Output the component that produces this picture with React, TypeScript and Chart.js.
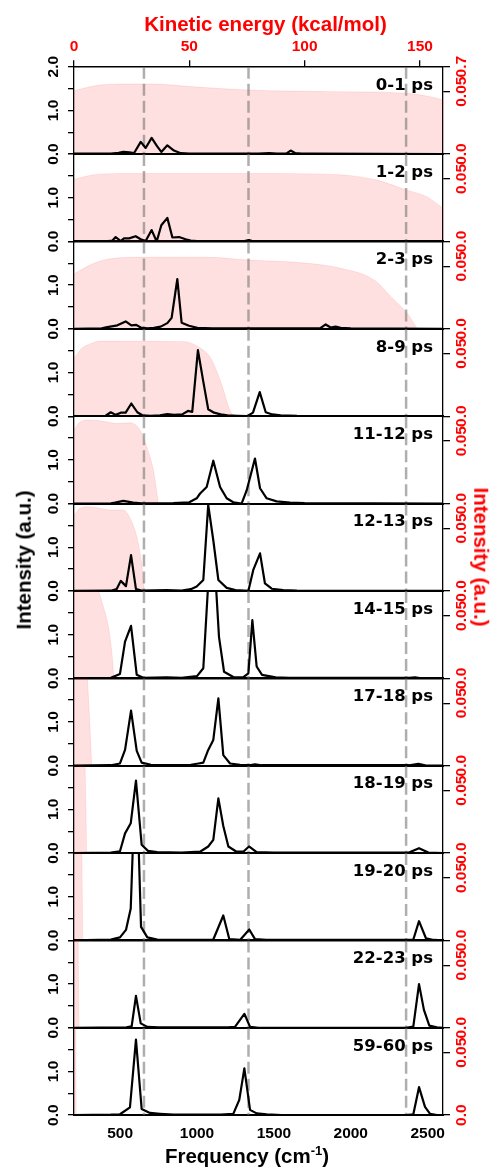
import React, { useEffect, useRef } from 'react';
import { Chart, registerables } from 'chart.js';

Chart.register(...registerables);

// ---------- data ----------
const panelLabels = ['0-1 ps', '1-2 ps', '2-3 ps', '8-9 ps', '11-12 ps', '12-13 ps', '14-15 ps', '17-18 ps', '18-19 ps', '19-20 ps', '22-23 ps', '59-60 ps'];

const freqTicks = [500, 1000, 1500, 2000, 2500];
const keTicks = [0, 50, 100, 150];
const intensityTicks = [0, 0.5, 1, 1.5, 2];
const refLines = [655, 1335, 2360];

// spectra: [frequency (cm-1), intensity (a.u.)]
const spec0 = [[200,0.01],[440,0.01],[490,0.03],[521,0.05],[560,0.04],[590,0.02],[634,0.28],[666,0.14],[705,0.37],[740,0.18],[768,0.05],[807,0.2],[850,0.08],[894,0.02],[950,0.01],[1400,0.01],[1470,0.02],[1520,0.01],[1580,0.01],[1609,0.08],[1640,0.02],[1680,0.01],[1750,0.01],[2600,0]];
const spec1 = [[200,0],[420,0.01],[450,0.02],[471,0.1],[504,0.01],[525,0.07],[558,0.07],[601,0.12],[634,0.05],[666,0.01],[705,0.26],[738,0],[768,0.37],[807,0.54],[840,0.09],[883,0.1],[926,0.05],[959,0.02],[1000,0.01],[1300,0],[1338,0.03],[1370,0],[1600,0.01],[2600,0]];
const spec2 = [[200,0],[380,0.01],[417,0.04],[482,0.08],[536,0.17],[573,0.08],[605,0.09],[634,0.03],[677,0.01],[720,0.02],[764,0.05],[807,0.13],[835,0.25],[872,1.14],[900,0.14],[948,0.07],[1002,0.02],[1100,0.01],[1800,0.01],[1837,0.1],[1869,0.03],[1902,0.05],[1934,0.02],[2000,0.01],[2600,0]];
const spec3 = [[200,0],[406,0.01],[439,0.09],[471,0.03],[504,0.08],[536,0.08],[573,0.29],[612,0.09],[644,0.02],[700,0.01],[760,0.02],[807,0.05],[850,0.03],[904,0.04],[941,0.12],[969,0.1],[1006,1.51],[1041,0.79],[1073,0.16],[1111,0.08],[1154,0.04],[1198,0.02],[1260,0.01],[1327,0],[1364,0.08],[1408,0.55],[1447,0.09],[1490,0.04],[1544,0.02],[1650,0.01],[2600,0]];
const spec4 = [[200,0],[440,0.005],[467,0.02],[521,0.06],[585,0.02],[640,0.005],[846,0.01],[950,0.03],[998,0.12],[1020,0.23],[1063,0.38],[1106,0.98],[1150,0.38],[1193,0.12],[1236,0.03],[1290,0],[1323,0.3],[1377,1.03],[1410,0.35],[1453,0.12],[1518,0.05],[1605,0.02],[1700,0.01],[2600,0]];
const spec5 = [[200,0],[440,0.005],[477,0.04],[504,0.23],[538,0.11],[571,0.82],[603,0.04],[640,0.01],[803,0.02],[900,0.01],[960,0.04],[998,0.1],[1041,0.25],[1073,1.97],[1106,1.16],[1139,0.25],[1193,0.07],[1250,0.02],[1334,0],[1366,0.48],[1410,0.86],[1442,0.17],[1486,0.05],[1561,0.02],[1650,0.01],[2600,0]];
const spec6 = [[200,0],[440,0.01],[499,0.1],[532,0.84],[571,1.2],[608,0.08],[650,0.01],[803,0.02],[900,0.01],[1000,0.05],[1041,0.23],[1080,2.6],[1102,3.5],[1122,2.2],[1143,0.95],[1176,0.15],[1236,0.03],[1300,0.02],[1334,0.11],[1360,1.33],[1388,0.27],[1423,0.08],[1512,0.02],[1600,0.01],[2380,0.01],[2418,0.02],[2460,0],[2600,0]];
const spec7 = [[200,0],[440,0.01],[499,0.05],[532,0.36],[571,1.26],[608,0.34],[640,0.07],[700,0.02],[800,0.01],[960,0.02],[1010,0.05],[1041,0.07],[1073,0.36],[1106,0.59],[1139,1.54],[1171,0.24],[1215,0.05],[1280,0.02],[1340,0.01],[1377,0.03],[1420,0.01],[2380,0.01],[2440,0.04],[2490,0],[2600,0]];
const spec8 = [[200,0],[440,0.01],[499,0.04],[532,0.45],[569,0.68],[603,1.66],[640,0.19],[681,0.05],[740,0.02],[900,0.01],[1020,0.03],[1073,0.15],[1106,0.3],[1139,1.25],[1171,0.62],[1204,0.15],[1257,0.03],[1301,0.03],[1338,0.15],[1388,0.02],[1500,0.01],[2378,0.01],[2444,0.11],[2505,0.01],[2600,0]];
const spec9 = [[200,0],[440,0.02],[499,0.07],[538,0.24],[569,0.73],[603,4.2],[636,0.31],[677,0.07],[742,0.02],[900,0.01],[1060,0.01],[1106,0.02],[1171,0.57],[1210,0.03],[1280,0.01],[1340,0.25],[1377,0.03],[1450,0.01],[2360,0.01],[2407,0.02],[2444,0.44],[2489,0.05],[2540,0.01],[2600,0]];
const spec10 = [[200,0],[540,0.01],[575,0.03],[603,0.73],[634,0.1],[677,0.02],[750,0.01],[1200,0.01],[1247,0.02],[1308,0.32],[1345,0.02],[1400,0],[2360,0],[2407,0.03],[2444,1.0],[2476,0.41],[2511,0.05],[2560,0.01],[2600,0]];
const spec11 = [[200,0],[440,0.01],[499,0.02],[564,0.18],[603,1.73],[640,0.14],[694,0.05],[759,0.03],[846,0.01],[1153,0.01],[1236,0.03],[1275,0.35],[1308,1.07],[1345,0.12],[1388,0.04],[1453,0.02],[1550,0],[2360,0],[2407,0.02],[2444,0.64],[2483,0.19],[2516,0.03],[2560,0],[2600,0]];

// kinetic energy distributions: [energy (kcal/mol), intensity (a.u.)]
const ke0 = [[0,0.0508],[11.3,0.0553],[23,0.0561],[33,0.0561],[54.6,0.0535],[75.4,0.0513],[112.3,0.05],[144,0.0487],[154.3,0.046],[160,0.0433]];
const ke1 = [[0,0.0497],[9.8,0.0537],[25.7,0.0545],[76.3,0.0545],[112.3,0.0537],[131.2,0.0492],[144,0.0412],[152.9,0.0358],[160,0.0265]];
const ke2 = [[0,0.0439],[4.3,0.0485],[8.7,0.0525],[14.5,0.0557],[28.9,0.0573],[57.8,0.0573],[75.2,0.0551],[101.2,0.0525],[115.6,0.0485],[130.1,0.0391],[138.8,0.023],[144.5,0.0124],[148.8,0]];
const ke3 = [[0,0.046],[2.9,0.0535],[7.2,0.058],[11.6,0.0602],[21.7,0.06],[47.7,0.0597],[54.9,0.0544],[59.3,0.0464],[63.6,0.0276],[67.9,0.0036],[69.4,0]];
const ke4 = [[0,0.0589],[1.9,0.0642],[5.5,0.0669],[11.3,0.0663],[18.5,0.0642],[24.3,0.0647],[28.6,0.0589],[31.5,0.0455],[34.4,0.0268],[36.6,0]];
const ke5 = [[0,0.0608],[2.6,0.0662],[6.2,0.0674],[11.3,0.0662],[15.6,0.0648],[21.4,0.0648],[24.3,0.0582],[27.2,0.0434],[29.3,0.0221],[30.5,0]];
const ke6 = [[0,0.068],[4,0.073],[9.8,0.072],[12.7,0.0574],[14.9,0.0413],[16.3,0.0227],[17.3,0]];
const ke7 = [[0,0.1],[2,0.14],[4,0.12],[5.8,0.07],[7.7,0]];
const ke8 = [[0,0.15],[2,0.2],[4,0.15],[4.8,0.07],[5.5,0]];
const ke9 = [[0,0.25],[1.5,0.3],[3,0.12],[3.4,0.07],[3.8,0]];
const ke10 = [[0,0.3],[1,0.4],[1.8,0.07],[2.2,0]];
const ke11 = [[0,0.5],[0.5,0.6],[0.8,0.07],[0.95,0]];

const spectra = [spec0, spec1, spec2, spec3, spec4, spec5, spec6, spec7, spec8, spec9, spec10, spec11];
const keDists = [ke0, ke1, ke2, ke3, ke4, ke5, ke6, ke7, ke8, ke9, ke10, ke11];

// ---------- layout ----------
const W = 495;
const PLOT_LEFT = 74;
const PLOT_RIGHT = 443;
const PLOT_TOP = 66.7;
const PANEL_H = 87.37;
const N = panelLabels.length;

const tickFont = { family: 'Liberation Sans', size: 15.5, weight: 'bold' as const };
const toXY = (arr: number[][]) => arr.map(([x, y]) => ({ x, y }));

function Panel({ index }: { index: number }) {
  const ref = useRef<HTMLCanvasElement>(null);
  const isFirst = index === 0;
  const isLast = index === N - 1;
  const pt = PLOT_TOP + index * PANEL_H;
  const pb = pt + PANEL_H;
  const canvasTop = isFirst ? 26 : Math.floor(pt) - 15;
  const canvasBottom = isLast ? 1150 : Math.ceil(pb) + 15;
  const H = canvasBottom - canvasTop;
  const padT = pt - canvasTop;
  const padB = H - (pb - canvasTop);

  useEffect(() => {
    if (!ref.current) return;
    const datasets: any[] = [
      {
        data: toXY(spectra[index]),
        xAxisID: 'x', yAxisID: 'y',
        borderColor: '#000', borderWidth: 2.2, pointRadius: 0, fill: false,
        tension: 0, borderJoinStyle: 'round',
      },
      ...refLines.map((f) => ({
        data: [{ x: f, y: 2 }, { x: f, y: 0 }],
        xAxisID: 'x', yAxisID: 'y',
        borderColor: 'rgba(115,115,115,0.58)', borderWidth: 2.5, borderDash: [12, 5],
        pointRadius: 0, fill: false,
      })),
      {
        data: toXY(keDists[index]),
        xAxisID: 'xk', yAxisID: 'yr',
        borderColor: 'rgba(255,0,0,0.10)', backgroundColor: 'rgba(255,0,0,0.12)',
        borderWidth: 1, pointRadius: 0, fill: 'origin', cubicInterpolationMode: 'monotone',
      },
    ];
    const chart = new Chart(ref.current, {
      type: 'line',
      data: { datasets },
      options: {
        animation: false,
        responsive: false,
        devicePixelRatio: 1,
        events: [],
        layout: { padding: 0 },
        plugins: { legend: { display: false }, tooltip: { enabled: false }, title: { display: false } },
        scales: {
          x: {
            type: 'linear', position: 'bottom', min: 200, max: 2600,
            afterBuildTicks: (s: any) => { s.ticks = freqTicks.map((v) => ({ value: v })); },
            afterFit: (s: any) => { s.height = padB; },
            ticks: {
              display: isLast, autoSkip: false, minRotation: 0, maxRotation: 0, padding: 9.6,
              font: tickFont, color: '#000', callback: (v: any) => String(v),
            },
            grid: { display: true, drawOnChartArea: false, drawTicks: false },
            border: { display: true, color: '#000', width: 2 },
          },
          xk: {
            type: 'linear', position: 'top', min: 0, max: 160,
            afterBuildTicks: (s: any) => { s.ticks = keTicks.map((v) => ({ value: v })); },
            afterFit: (s: any) => { s.height = padT; },
            ticks: {
              display: isFirst, autoSkip: false, minRotation: 0, maxRotation: 0, padding: 4.2,
              font: tickFont, color: '#ff0000', callback: (v: any) => String(v),
            },
            grid: { display: true, drawOnChartArea: false, drawTicks: isFirst, tickLength: 6.5, color: '#000', lineWidth: 1.3 },
            border: { display: true, color: '#000', width: 1.5 },
          },
          y: {
            type: 'linear', position: 'left', min: 0, max: 2,
            afterBuildTicks: (s: any) => { s.ticks = intensityTicks.map((v) => ({ value: v })); },
            afterFit: (s: any) => { s.width = PLOT_LEFT; },
            ticks: {
              autoSkip: false, minRotation: 90, maxRotation: 90, crossAlign: 'center', padding: 3.2,
              font: tickFont, color: '#000',
              callback: (v: any) => (v === 0 ? '0.0' : v === 1 ? '1.0' : v === 2 && isFirst ? '2.0' : ''),
            },
            grid: { display: true, drawOnChartArea: false, drawTicks: true, tickLength: 6, color: '#000', lineWidth: 1.3 },
            border: { display: true, color: '#000', width: 1.3 },
          },
          yr: {
            type: 'linear', position: 'right', min: 0, max: 0.07,
            afterBuildTicks: (s: any) => {
              s.ticks = (isFirst ? [0, 0.05, 0.07] : [0, 0.05]).map((v) => ({ value: v }));
            },
            afterFit: (s: any) => { s.width = W - PLOT_RIGHT; },
            ticks: {
              autoSkip: false, minRotation: 90, maxRotation: 90, crossAlign: 'center', padding: -3.1,
              font: tickFont, color: '#ff0000',
              callback: (v: any) => (v === 0 ? '0.0' : v === 0.05 ? '0.05' : '0.7'),
            },
            grid: { display: true, drawOnChartArea: false, drawTicks: true, tickLength: 7, color: '#000', lineWidth: 1.3 },
            border: { display: true, color: '#000', width: 1.3 },
          },
        },
      } as any,
    });
    return () => chart.destroy();
  }, [index]);

  return (
    <canvas
      ref={ref}
      width={W}
      height={H}
      style={{ position: 'absolute', left: 0, top: canvasTop, width: W, height: H }}
    />
  );
}

const titleFont = "'Liberation Sans', Arial, sans-serif";

export default function App() {
  return (
    <div style={{ position: 'absolute', left: 0, top: 0, width: W, height: 1171, background: '#fff', overflow: 'hidden' }}>
      {panelLabels.map((_, i) => (
        <Panel key={i} index={i} />
      ))}
      {panelLabels.map((lab, i) => (
        <div
          key={'l' + i}
          style={{
            position: 'absolute', right: W - 433, top: PLOT_TOP + i * PANEL_H + 17.8 - 10,
            fontFamily: "'DejaVu Sans', sans-serif", fontWeight: 'bold', fontSize: 16.5,
            lineHeight: '20px', whiteSpace: 'nowrap', color: '#000',
          }}
        >
          {lab}
        </div>
      ))}
      <div style={{
        position: 'absolute', left: 265.5, top: 23.5, transform: 'translate(-50%,-50%)',
        fontFamily: titleFont, fontWeight: 'bold', fontSize: 20.5, lineHeight: 1, color: '#ff0000', whiteSpace: 'nowrap',
      }}>Kinetic energy (kcal/mol)</div>
      <div style={{
        position: 'absolute', left: 247, top: 1155.5, transform: 'translate(-50%,-50%)',
        fontFamily: titleFont, fontWeight: 'bold', fontSize: 20.5, lineHeight: 1, color: '#000', whiteSpace: 'nowrap',
      }}>Frequency (cm<span style={{ fontSize: 13, position: 'relative', top: -8 }}>-1</span>)</div>
      <div style={{
        position: 'absolute', left: 23.5, top: 560, transform: 'translate(-50%,-50%) rotate(-90deg)',
        fontFamily: titleFont, fontWeight: 'bold', fontSize: 20.5, lineHeight: 1, color: '#000', whiteSpace: 'nowrap',
      }}>Intensity (a.u.)</div>
      <div style={{
        position: 'absolute', left: 481, top: 557, transform: 'translate(-50%,-50%) rotate(90deg)',
        fontFamily: titleFont, fontWeight: 'bold', fontSize: 20.5, lineHeight: 1, color: '#ff0000', whiteSpace: 'nowrap',
      }}>Intensity (a.u.)</div>
    </div>
  );
}
